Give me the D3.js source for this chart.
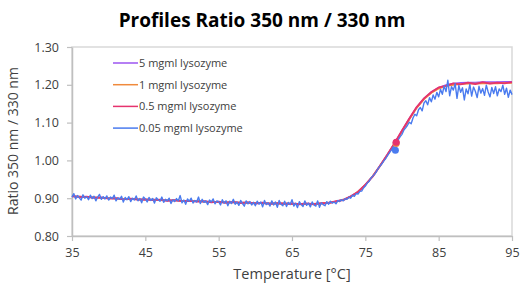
<!DOCTYPE html>
<html>
<head>
<meta charset="utf-8">
<script src="https://cdn.jsdelivr.net/npm/d3@7"></script>
<style>
  body { margin: 0; background: #fff; }
  text { font-family: "Open Sans", "Noto Sans", sans-serif; }
</style>
</head>
<body>
<div id="chart"></div>
<script>
// data
const seriesNames = ["5 mgml lysozyme", "1 mgml lysozyme", "0.5 mgml lysozyme", "0.05 mgml lysozyme"];
const seriesColors = ["#9d55f0", "#f08a3c", "#e6336e", "#4a7bef"];

// 1 degree steps, 35 .. 95
const tempCoarse = d3.range(35, 95.5, 1);
const conc5 = [0.905,0.904,0.903,0.902,0.901,0.900,0.899,0.898,0.898,0.897,
  0.896,0.896,0.895,0.894,0.894,0.893,0.892,0.892,0.891,0.890,
  0.890,0.889,0.889,0.888,0.888,0.887,0.887,0.886,0.886,0.886,
  0.885,0.885,0.885,0.885,0.886,0.888,0.891,0.896,0.904,0.917,
  0.935,0.958,0.985,1.015,1.045,1.078,1.110,1.140,1.163,1.180,
  1.192,1.199,1.203,1.205,1.206,1.206,1.207,1.207,1.207,1.208,1.208];
const conc1 = [0.905,0.904,0.903,0.902,0.901,0.900,0.899,0.898,0.898,0.897,
  0.896,0.896,0.895,0.894,0.894,0.893,0.892,0.892,0.891,0.890,
  0.890,0.889,0.889,0.888,0.888,0.887,0.887,0.886,0.886,0.886,
  0.885,0.885,0.885,0.885,0.886,0.888,0.891,0.896,0.904,0.917,
  0.935,0.958,0.985,1.014,1.044,1.077,1.109,1.139,1.162,1.179,
  1.190,1.197,1.200,1.202,1.203,1.203,1.204,1.204,1.204,1.205,1.205];
const conc05 = [0.906,0.903,0.904,0.901,0.902,0.899,0.900,0.897,0.899,0.896,
  0.897,0.895,0.896,0.893,0.895,0.892,0.893,0.891,0.892,0.889,
  0.891,0.888,0.890,0.887,0.889,0.886,0.888,0.885,0.887,0.885,
  0.886,0.884,0.886,0.884,0.887,0.887,0.892,0.895,0.905,0.916,
  0.936,0.957,0.986,1.015,1.046,1.079,1.111,1.141,1.164,1.181,
  1.193,1.197,1.204,1.201,1.206,1.202,1.207,1.203,1.206,1.204,1.207];

// 0.25 degree steps, 35 .. 95 (noisy low concentration)
const tempFine = d3.range(35, 95.1, 0.25);
const conc005 = [
  0.903,0.912,0.898,0.907,0.901,0.895,0.909,0.900,0.904,0.896,
  0.908,0.899,0.905,0.893,0.903,0.910,0.897,0.904,0.898,0.906,
  0.895,0.903,0.899,0.908,0.893,0.901,0.897,0.905,0.890,0.902,
  0.896,0.904,0.891,0.900,0.895,0.906,0.893,0.899,0.888,0.903,
  0.898,0.890,0.902,0.894,0.899,0.887,0.901,0.896,0.892,0.903,
  0.889,0.897,0.893,0.900,0.886,0.896,0.891,0.899,0.893,0.907,
  0.888,0.895,0.884,0.898,0.892,0.900,0.887,0.894,0.890,0.903,
  0.886,0.897,0.889,0.893,0.883,0.895,0.890,0.898,0.885,0.893,
  0.891,0.882,0.896,0.887,0.893,0.880,0.892,0.886,0.897,0.884,
  0.890,0.881,0.894,0.886,0.879,0.893,0.885,0.891,0.882,0.889,
  0.880,0.892,0.884,0.890,0.877,0.894,0.883,0.888,0.879,0.893,
  0.882,0.890,0.876,0.894,0.884,0.880,0.892,0.878,0.889,0.883,
  0.896,0.879,0.887,0.875,0.891,0.883,0.878,0.893,0.881,0.887,
  0.877,0.890,0.882,0.879,0.893,0.876,0.888,0.883,0.880,0.891,
  0.884,0.892,0.887,0.890,0.885,0.894,0.891,0.896,0.893,0.899,
  0.897,0.903,0.900,0.908,0.905,0.912,0.911,0.918,0.919,0.927,
  0.932,0.940,0.944,0.953,0.958,0.963,0.970,0.979,0.985,0.991,
  0.998,1.004,1.012,1.019,1.026,1.034,1.040,1.049,1.055,1.063,
  1.069,1.080,1.086,1.093,1.101,1.097,1.112,1.122,1.118,1.134,
  1.140,1.131,1.152,1.158,1.147,1.166,1.155,1.173,1.162,1.180,
  1.168,1.188,1.175,1.197,1.182,1.212,1.171,1.195,1.186,1.203,
  1.164,1.198,1.180,1.192,1.160,1.189,1.176,1.201,1.170,1.194,
  1.183,1.166,1.196,1.178,1.190,1.172,1.199,1.181,1.168,1.193,
  1.177,1.195,1.171,1.189,1.182,1.199,1.175,1.191,1.167,1.186,
  1.174];

// midpoint markers
const midTemp = [79.2, 79.2, 79.2, 79.1];
const midValue = [1.047, 1.045, 1.048, 1.027];

const xTicks = [35, 45, 55, 65, 75, 85, 95];
const yTicks = [0.80, 0.90, 1.00, 1.10, 1.20, 1.30];

const W = 531, H = 284;
const margin = {top: 47, right: 19, bottom: 48, left: 72};
const width = W - margin.left - margin.right,
      height = H - margin.top - margin.bottom;

const svgRoot = d3.select("#chart").append("svg")
  .attr("width", W).attr("height", H);

svgRoot.append("text")
  .attr("x", 262).attr("y", 27)
  .attr("text-anchor", "middle")
  .attr("font-size", "19px").attr("font-weight", "bold")
  .attr("fill", "#000")
  .text("Profiles Ratio 350 nm / 330 nm");

const svg = svgRoot.append("g")
  .attr("transform", `translate(${margin.left},${margin.top})`);

const x = d3.scaleLinear().domain([35, 95]).range([0, width]);
const y = d3.scaleLinear().domain([0.8, 1.3]).range([height, 0]);

// plot frame
svg.append("rect")
  .attr("x", 0).attr("y", 0).attr("width", width).attr("height", height)
  .attr("fill", "none").attr("stroke", "#d9d9d9").attr("stroke-width", 1.5);

const xAxis = svg.append("g")
  .attr("transform", `translate(0,${height})`)
  .call(d3.axisBottom(x).tickValues(xTicks).tickSize(5).tickSizeOuter(0).tickPadding(7));
const yAxis = svg.append("g")
  .call(d3.axisLeft(y).tickValues(yTicks).tickFormat(d3.format(".2f")).tickSize(5).tickSizeOuter(0).tickPadding(8));

[xAxis, yAxis].forEach(function(a) {
  a.select(".domain").attr("stroke", "#bfbfbf").attr("stroke-width", 1.5);
  a.selectAll(".tick line").attr("stroke", "#bfbfbf").attr("stroke-width", 1.2);
  a.selectAll(".tick text").attr("fill", "#404040").attr("font-size", "12.5px")
    .attr("font-family", "'Open Sans', sans-serif");
});

svgRoot.append("text")
  .attr("x", 292).attr("y", 279)
  .attr("text-anchor", "middle")
  .attr("font-size", "14.5px").attr("fill", "#404040")
  .text("Temperature  [°C]");

svgRoot.append("text")
  .attr("transform", "translate(18,141) rotate(-90)")
  .attr("text-anchor", "middle")
  .attr("font-size", "14px").attr("fill", "#404040")
  .text("Ratio 350 nm / 330 nm");

const series = [
  {temps: tempCoarse, values: conc5},
  {temps: tempCoarse, values: conc1},
  {temps: tempCoarse, values: conc05},
  {temps: tempFine, values: conc005}
];

const line = d3.line()
  .x(function(d) { return x(d[0]); })
  .y(function(d) { return y(d[1]); });

svg.selectAll("path.series")
  .data(series)
  .join("path")
  .attr("class", "series")
  .attr("fill", "none")
  .attr("stroke", function(d, i) { return seriesColors[i]; })
  .attr("stroke-width", function(d, i) { return i === 3 ? 1.4 : 1.8; })
  .attr("stroke-linejoin", "round")
  .attr("d", function(d) { return line(d.temps.map(function(t, j) { return [t, d.values[j]]; })); });

svg.selectAll("circle.mid")
  .data(midTemp)
  .join("circle")
  .attr("class", "mid")
  .attr("cx", function(d) { return x(d); })
  .attr("cy", function(d, i) { return y(midValue[i]); })
  .attr("r", 3.5)
  .attr("fill", function(d, i) { return seriesColors[i]; });

// legend
const legend = svgRoot.append("g").attr("transform", "translate(113,63)");
seriesNames.forEach(function(name, i) {
  const g = legend.append("g").attr("transform", `translate(0,${i * 21.7})`);
  g.append("line").attr("x1", 0).attr("x2", 25).attr("y1", 0).attr("y2", 0)
    .attr("stroke", seriesColors[i]).attr("stroke-width", 1.5);
  g.append("text").attr("x", 26).attr("y", 4)
    .attr("font-size", "11px").attr("fill", "#404040")
    .text(name);
});
</script>
</body>
</html>
